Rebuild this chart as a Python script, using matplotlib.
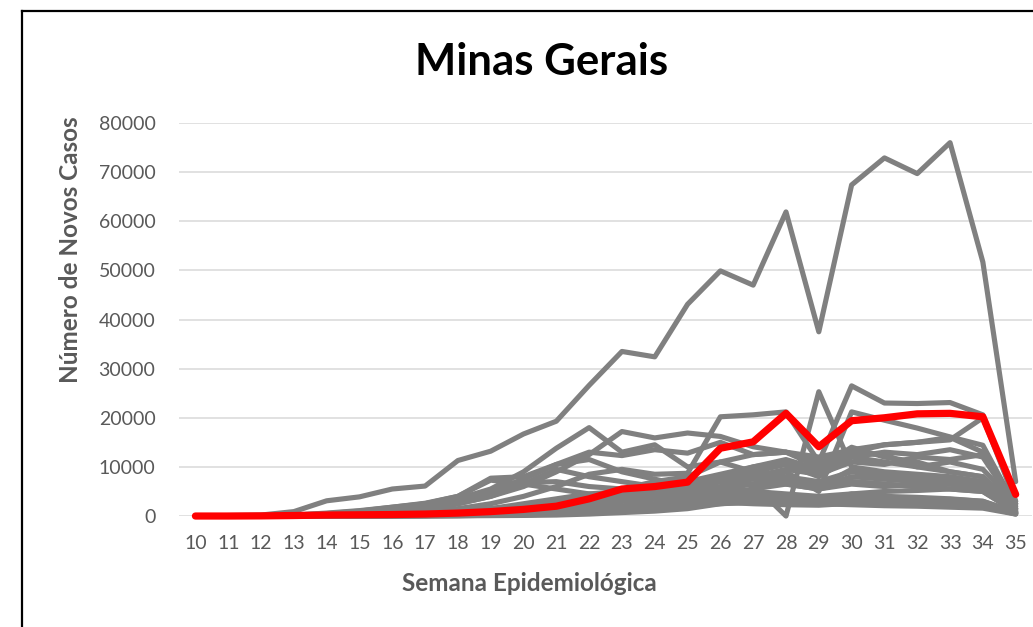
import matplotlib.pyplot as plt
from matplotlib.lines import Line2D

# semanas epidemiologicas
semanas = list(range(10, 36))

# Minas Gerais (linha vermelha)
mg = [0, 0, 30, 100, 200, 250, 300, 400, 600, 900, 1350, 2000, 3500, 5500, 6000, 6900,
      13800, 15100, 20900, 14100, 19400, 20000, 20800, 20900, 20200, 4400]

# demais estados (linhas cinzas)
sp = [0, 100, 200, 900, 3100, 3900, 5500, 6100, 11300, 13200, 16700, 19300, 26600, 33500,
      32400, 43100, 49900, 47000, 61900, 37500, 67400, 72900, 69700, 76000, 51700, 7000]
ce = [0, 0, 50, 200, 500, 1000, 1800, 2500, 3500, 5500, 9000, 13800, 18000, 13000, 14500,
      10000, 11000, 9000, 8000, 7000, 9000, 8000, 7500, 7000, 6500, 1500]
pa = [0, 0, 20, 100, 300, 600, 1000, 1500, 2500, 4000, 6000, 9000, 12500, 17200, 15900,
      16900, 16200, 14100, 13000, 12000, 13500, 14500, 15000, 15500, 20000, 3000]
rj = [0, 0, 50, 200, 600, 1100, 1800, 2600, 4000, 7700, 8000, 10500, 13000, 12300, 13500,
      12800, 15000, 12500, 13000, 11000, 12800, 12500, 10000, 11000, 9500, 2500]
ba = [0, 0, 10, 50, 150, 300, 600, 900, 1500, 2500, 4000, 6000, 8500, 9500, 8500, 8700,
      20200, 20600, 21200, 11000, 26500, 23000, 22900, 23100, 20600, 3000]
sc = [0, 0, 10, 50, 100, 200, 400, 600, 1000, 1500, 2200, 3000, 4000, 5000, 5500, 6000,
      7000, 6500, 0, 25300, 10000, 9000, 8500, 8000, 7000, 1500]
go = [0, 0, 10, 30, 100, 200, 300, 500, 800, 1200, 1800, 2500, 3500, 4500, 5000, 6000,
      7500, 8500, 9000, 5000, 21200, 19500, 17900, 16100, 14400, 2000]
am = [0, 0, 0, 20, 100, 300, 700, 1500, 3000, 5000, 7500, 10500, 11500, 9000, 7500, 6000,
      5500, 5000, 4500, 4000, 4500, 4000, 3800, 3500, 3000, 800]
pe = [0, 0, 10, 100, 400, 900, 1500, 2500, 4000, 7300, 6500, 5500, 4500, 4000, 3500, 3000,
      2800, 2500, 2300, 2200, 2600, 2500, 2700, 3000, 2800, 600]
ma = [0, 0, 10, 60, 200, 500, 900, 1500, 2800, 4500, 6800, 7000, 6000, 5500, 5000, 4800,
      4600, 4200, 4000, 3500, 3800, 3500, 3300, 3400, 3000, 700]
es = [0, 0, 0, 10, 100, 300, 600, 1200, 2500, 4000, 6500, 9500, 8000, 7000, 6000, 4500,
      4000, 3500, 3200, 3000, 2800, 2600, 2500, 2300, 2000, 500]
df = [0, 0, 10, 20, 50, 80, 120, 200, 300, 500, 900, 1500, 2500, 3500, 5000, 7000, 8500,
      10000, 11000, 9000, 13000, 14500, 15000, 16000, 13000, 2500]
rs = [0, 0, 10, 30, 60, 100, 150, 250, 400, 600, 900, 1300, 2000, 3000, 4500, 6000, 7500,
      9000, 10500, 8000, 12000, 13000, 12500, 13500, 12000, 2000]
pr = [0, 0, 10, 30, 60, 100, 150, 200, 300, 500, 800, 1200, 2000, 3000, 4000, 6000, 8000,
      10000, 11500, 9500, 12000, 11000, 10000, 9000, 8000, 1500]
mt = [0, 0, 5, 20, 40, 60, 80, 120, 200, 300, 500, 800, 1200, 2000, 3500, 5500, 7000,
      8000, 9500, 8500, 11000, 10500, 12000, 11500, 12500, 2500]
pb = [0, 0, 10, 40, 100, 150, 250, 400, 700, 1000, 1500, 2200, 3500, 5500, 7000, 8000,
      11000, 12500, 13000, 10000, 14000, 12000, 11000, 9000, 8000, 1500]
rn = [0, 0, 5, 20, 60, 150, 300, 600, 1000, 1500, 2500, 3500, 4500, 5000, 5500, 6500,
      7000, 7500, 6500, 5500, 6500, 6000, 6500, 7000, 6500, 1200]
se = [0, 0, 0, 5, 20, 50, 100, 200, 400, 700, 1500, 2500, 3500, 4500, 5500, 6500, 7500,
      8000, 7500, 6500, 7000, 6500, 6000, 5500, 5000, 800]
al = [0, 0, 0, 10, 40, 100, 150, 250, 400, 700, 1100, 1800, 2600, 3500, 4200, 5000, 5500,
      5000, 4200, 3500, 3000, 2800, 2600, 2500, 2300, 500]
pi = [0, 0, 0, 5, 10, 30, 60, 100, 200, 400, 700, 1200, 2000, 3000, 4000, 5000, 6000,
      6500, 7000, 6000, 8000, 7500, 7000, 6500, 6000, 600]
ms = [0, 0, 0, 5, 20, 50, 100, 200, 400, 700, 1200, 2000, 3000, 3500, 4000, 3800, 3500,
      3000, 2800, 2500, 2300, 2100, 2000, 1800, 1600, 400]
ro = [0, 0, 0, 5, 10, 30, 60, 100, 200, 300, 500, 800, 1200, 1800, 2500, 3200, 4500,
      5500, 6500, 5500, 7000, 6500, 6000, 6500, 5500, 800]
to = [0, 0, 0, 5, 10, 20, 30, 50, 80, 150, 300, 500, 900, 1500, 2500, 4000, 5500, 6500,
      7500, 6000, 9500, 8500, 8000, 7500, 7000, 1000]
ap = [0, 0, 0, 5, 10, 15, 20, 30, 50, 80, 120, 200, 400, 700, 1000, 1500, 2500, 3000,
      3500, 3000, 4500, 5000, 5200, 5500, 5000, 1000]
rr = [0, 0, 0, 0, 5, 10, 30, 60, 100, 200, 400, 700, 1100, 1600, 2000, 2500, 3000, 3200,
      3000, 2500, 3000, 2800, 2500, 2300, 2000, 400]
ac = [0, 0, 0, 0, 5, 10, 20, 40, 80, 150, 250, 400, 700, 1000, 1500, 2000, 2500, 2800,
      3000, 2600, 3200, 3000, 2800, 2600, 2500, 500]

outros = [ce, pa, rj, ba, sc, go, am, pe, ma, es, df, rs, pr, mt, pb, rn, se, al, pi,
          ms, ro, to, ap, rr, ac, sp]

cinza = '#808080'
texto = '#595959'

plt.rcParams['font.family'] = ['Lato', 'DejaVu Sans']

fig = plt.figure(figsize=(10.33, 6.27), dpi=100)
ax = fig.add_axes([0.1733, 0.1770, 0.8258, 0.6268])

for serie in outros:
    ax.plot(semanas, serie, color=cinza, lw=3.7, solid_joinstyle='round',
            solid_capstyle='round', clip_on=False)
ax.plot(semanas, mg, color='#FF0000', lw=5.2, solid_joinstyle='round',
        solid_capstyle='round', clip_on=False, zorder=5)

ax.set_xlim(9.5, 35.5)
ax.set_ylim(0, 80000)
ax.set_xticks(semanas)
ax.set_yticks(range(0, 80001, 10000))
ax.yaxis.grid(True, color='#D9D9D9', lw=1.1)
ax.set_axisbelow(True)
for s in ax.spines.values():
    s.set_visible(False)
ax.tick_params(axis='both', length=0, labelsize=14, labelcolor=texto)
ax.tick_params(axis='y', pad=17)
ax.tick_params(axis='x', pad=14)

fig.text(0.524, 0.901, 'Minas Gerais', ha='center', va='center', fontsize=31.5,
         fontweight='bold', color='black')
fig.text(0.068, 0.601, 'Número de Novos Casos', ha='center', va='center', rotation=90,
         fontsize=17.5, fontweight='bold', color=texto)
fig.text(0.512, 0.070, 'Semana Epidemiológica', ha='center', va='center', fontsize=17.5,
         fontweight='bold', color=texto)

# moldura do grafico (cortada a direita e embaixo)
fig.add_artist(Line2D([22 / 1033, 1], [1 - 11 / 627, 1 - 11 / 627], color='black', lw=1.6))
fig.add_artist(Line2D([22 / 1033, 22 / 1033], [0, 1 - 11 / 627], color='black', lw=1.6))

fig.savefig('out.png', dpi=100)
